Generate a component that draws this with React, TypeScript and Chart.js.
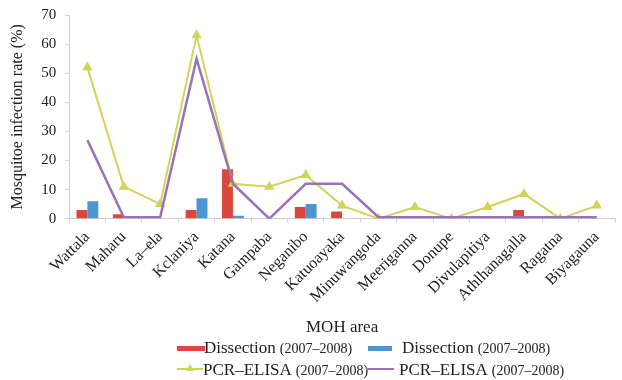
import React, { useEffect, useRef } from "react";
import { Chart, registerables } from "chart.js";

Chart.register(...registerables);

const categories = [
  "Wattala", "Maharu", "La–ela", "Kclaniya", "Katana", "Gampaba", "Neganibo",
  "Katuoayaka", "Minuwangoda", "Meeriganna", "Donupe", "Divulapitiya",
  "Athlhanagalla", "Ragatna", "Biyagauna",
];
const dissectionRed = [3, 1.5, 0, 3, 17, 0, 4, 2.5, 0, 0, 0, 0, 3, 0, 0];
const dissectionBlue = [6, 0, 0, 7, 1, 0, 5, 0, 0, 0, 0, 0, 0, 0, 0];
const pcrYellow = [52, 11, 5, 63, 12, 11, 15, 4.5, 0, 4, 0, 4, 8.5, 0, 4.5];
const pcrPurple = [27, 0.5, 0.5, 55, 12, 0, 12, 12, 0.5, 0.5, 0.5, 0.5, 0.5, 0.5, 0.5];
const yTicks = [0, 10, 20, 30, 40, 50, 60, 70];
const legendLabels = [
  ["Dissection", "(2007–2008)"],
  ["Dissection", "(2007–2008)"],
  ["PCR–ELISA", "(2007–2008)"],
  ["PCR–ELISA", "(2007–2008)"],
];

const RED = "#d8483c";
const BLUE = "#4d95d3";
const YELLOW = "#d0d45a";
const PURPLE = "#9a72b8";
const FONT = "'Liberation Serif', 'DejaVu Serif', serif";

export default function App() {
  const ref = useRef<HTMLCanvasElement | null>(null);
  useEffect(() => {
    if (!ref.current) return;
    const chart = new Chart(ref.current, {
      type: "bar",
      data: {
        labels: categories,
        datasets: [
          {
            type: "line",
            label: "PCR-ELISA yellow",
            data: pcrYellow,
            borderColor: YELLOW,
            backgroundColor: YELLOW,
            borderWidth: 2,
            pointStyle: "triangle",
            pointRadius: 4,
            tension: 0,
            order: 1,
          },
          {
            type: "line",
            label: "PCR-ELISA purple",
            data: pcrPurple,
            borderColor: PURPLE,
            backgroundColor: PURPLE,
            borderWidth: 2.5,
            pointRadius: 0,
            tension: 0,
            order: 0,
          },
          {
            label: "Dissection red",
            data: dissectionRed,
            backgroundColor: RED,
            categoryPercentage: 0.6,
            barPercentage: 1,
            order: 2,
          },
          {
            label: "Dissection blue",
            data: dissectionBlue,
            backgroundColor: BLUE,
            categoryPercentage: 0.6,
            barPercentage: 1,
            order: 2,
          },
        ],
      },
      options: {
        animation: false,
        responsive: false,
        maintainAspectRatio: false,
        layout: { padding: { left: 8, right: 7, top: 0, bottom: 0 } },
        plugins: { legend: { display: false }, tooltip: { enabled: false } },
        scales: {
          x: {
            offset: true,
            grid: { drawOnChartArea: false, drawTicks: true, tickLength: 4, color: "#d4d4d4", offset: true },
            border: { color: "#cfcfcf" },
            ticks: {
              minRotation: 45,
              maxRotation: 45,
              autoSkip: false,
              padding: 5,
              color: "#222",
              font: { family: FONT, size: 16 },
            },
            title: {
              display: true,
              text: "MOH area",
              color: "#222",
              font: { family: FONT, size: 17 },
              padding: { top: 6, bottom: 0 },
            },
          },
          y: {
            min: 0,
            max: 70,
            afterBuildTicks: (axis: any) => {
              axis.ticks = yTicks.map((v) => ({ value: v }));
            },
            grid: { drawOnChartArea: false, drawTicks: true, tickLength: 4, color: "#d4d4d4" },
            border: { color: "#cfcfcf" },
            ticks: { color: "#222", padding: 9, font: { family: FONT, size: 15 } },
            title: {
              display: true,
              text: "Mosquitoe infection rate (%)",
              color: "#222",
              font: { family: FONT, size: 16 },
              padding: { top: 0, bottom: 5 },
            },
          },
        },
      },
    });
    return () => chart.destroy();
  }, []);

  const swatchColors = [RED, BLUE, YELLOW, PURPLE];
  const positions = [
    { left: 177, top: 337, swW: 28, textLeft: 204 },
    { left: 368, top: 337, swW: 24, textLeft: 402 },
    { left: 177, top: 359, swW: 26, textLeft: 203 },
    { left: 366, top: 359, swW: 28, textLeft: 399 },
  ];

  return (
    <div style={{ position: "fixed", left: 0, top: 0, width: 622, height: 380, background: "#fff", fontFamily: FONT, overflow: "hidden" }}>
      <canvas ref={ref} width={622} height={341} style={{ position: "absolute", left: 0, top: -3 }} />
      {legendLabels.map((lab, i) => {
        const p = positions[i];
        return (
          <React.Fragment key={i}>
            <div
              style={{
                position: "absolute",
                left: p.left,
                top: p.top + 9,
                width: p.swW,
                height: i < 2 ? 5 : 2,
                background: swatchColors[i],
              }}
            />
            {i === 2 && (
              <div
                style={{
                  position: "absolute",
                  left: p.left + p.swW / 2 - 4,
                  top: p.top + 5,
                  width: 0,
                  height: 0,
                  borderLeft: "4px solid transparent",
                  borderRight: "4px solid transparent",
                  borderBottom: "7px solid " + YELLOW,
                }}
              />
            )}
            <div
              style={{
                position: "absolute",
                left: p.textLeft,
                top: p.top,
                whiteSpace: "nowrap",
                color: "#222",
                lineHeight: "22px",
              }}
            >
              <span style={{ fontSize: 17 }}>{lab[0]}</span>{" "}
              <span style={{ fontSize: 14 }}>{lab[1]}</span>
            </div>
          </React.Fragment>
        );
      })}
    </div>
  );
}
